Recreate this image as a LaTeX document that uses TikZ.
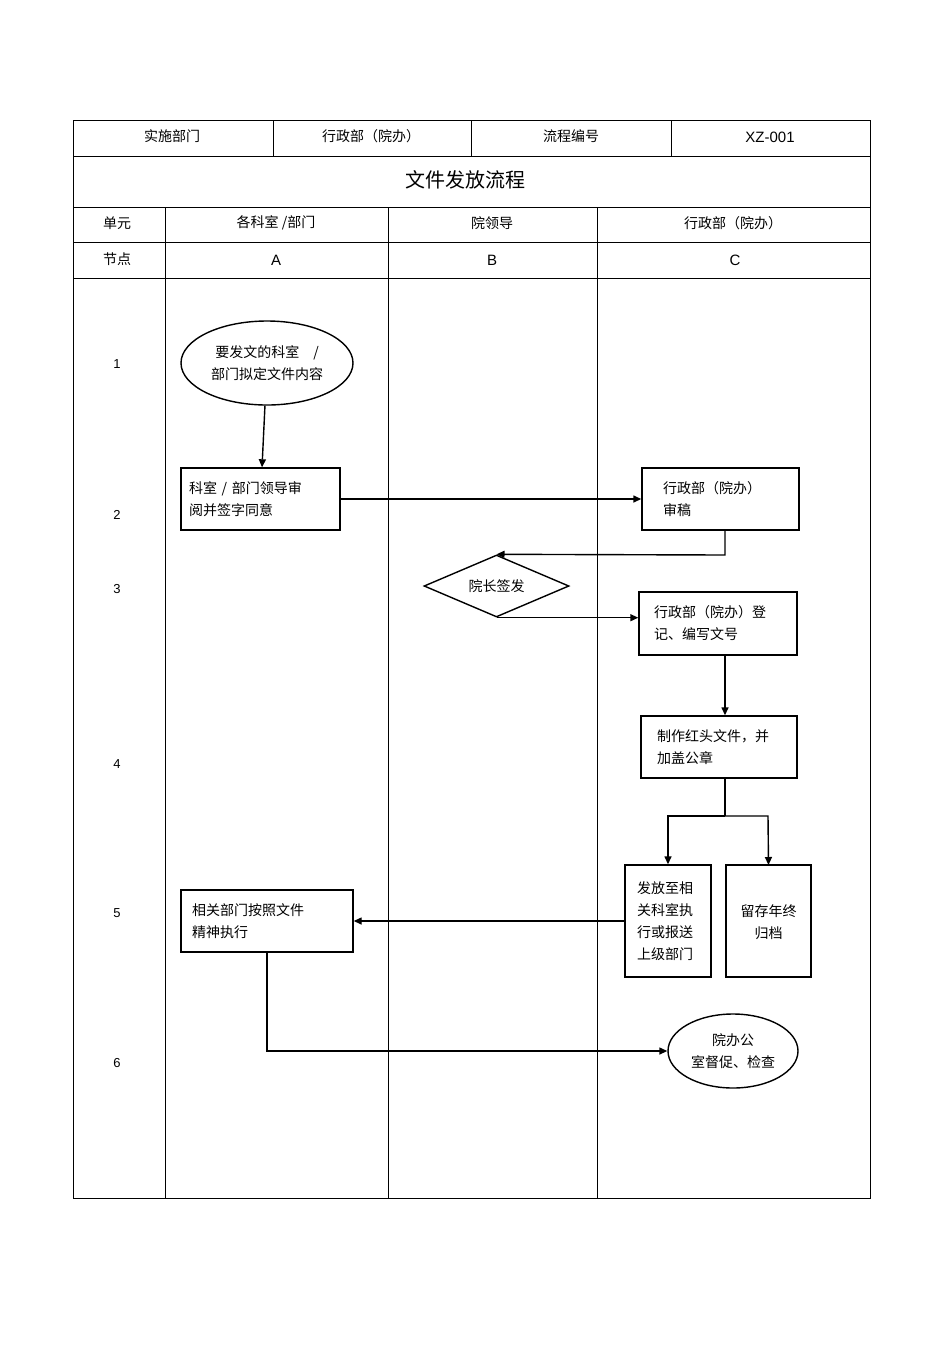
\documentclass[tikz,border=0pt]{standalone}
\usepackage{fontspec}
\setmainfont{Liberation Sans}
\newfontfamily\cjk{Noto Sans CJK SC}
\usetikzlibrary{shapes.geometric,arrows.meta}
\begin{document}
\begin{tikzpicture}[x=1pt,y=-1pt,
  every node/.style={font=\cjk\fontsize{14}{22}\selectfont,inner sep=0pt},
  box/.style={draw,line width=1.4pt,align=left},
  arr/.style={line width=1.4pt,-{Triangle[length=8pt,width=7pt]}},
  grid/.style={line width=0.7pt}]
\useasboundingbox (0,0) rectangle (950,1345);
% table
\draw[grid] (73,120) rectangle (870,1198);
\foreach \y in {156,207,242,278} \draw[grid] (73,\y) -- (870,\y);
\foreach \x in {273,471,671} \draw[grid] (\x,120) -- (\x,156);
\foreach \x in {165,388,597} \draw[grid] (\x,207) -- (\x,1198);
\node (h1) at (172,136) {实施部门};
\node (h2) at (371,136) {行政部（院办）};
\node (h3) at (571,136) {流程编号};
\node[font=\fontsize{15}{18}\selectfont] (h4) at (770,137) {XZ-001};
\node[font=\cjk\fontsize{20}{24}\selectfont] (title) at (465,180) {文件发放流程};
\node (u0) at (117,223) {单元};
\node (u1) at (276,223) {各科室 /部门};
\node (u2) at (492,223) {院领导};
\node (u3) at (733,223) {行政部（院办）};
\node (n0) at (117,259) {节点};
\node[font=\fontsize{15}{18}\selectfont] (nA) at (276,260) {A};
\node[font=\fontsize{15}{18}\selectfont] (nB) at (492,260) {B};
\node[font=\fontsize{15}{18}\selectfont] (nC) at (735,260) {C};
\foreach \t/\y in {1/364,2/515,3/589,4/764,5/913,6/1063}
  \node[font=\fontsize{13}{16}\selectfont] (r\t) at (117,\y) {\t};
% shapes
\node[draw,line width=1.4pt,ellipse,minimum width=172pt,minimum height=84pt,align=center] (e1) at (267,363) {要发文的科室\quad/\\部门拟定文件内容};
\node[box,minimum width=159pt,minimum height=62pt,text width=143pt] (a2) at (260.5,499) {科室 / 部门领导审\\阅并签字同意};
\node[box,minimum width=157pt,minimum height=62pt,text width=115pt] (c2) at (720.5,499) {行政部（院办）\\审稿};
\node[draw,line width=1.4pt,diamond,aspect=2.35,minimum width=145pt,minimum height=62pt] (d3) at (496.5,586) {院长签发};
\node[box,minimum width=158pt,minimum height=63pt,text width=128pt] (c3) at (718,623.5) {行政部（院办）登\\记、编写文号};
\node[box,minimum width=156pt,minimum height=62pt,text width=124pt] (c4) at (719,747) {制作红头文件，并\\加盖公章};
\node[box,minimum width=86pt,minimum height=112pt,text width=62pt] (c5a) at (668,921) {发放至相\\关科室执\\行或报送\\上级部门};
\node[box,minimum width=85pt,minimum height=112pt,text width=62pt,align=center,anchor=north] (c5b) at (768.5,865) {\rule{0pt}{12pt}留存年终\\归档};
\draw[line width=1.4pt] (726,865) rectangle (811,977);
\node[box,minimum width=172pt,minimum height=62pt,text width=150pt] (a5) at (267,921) {相关部门按照文件\\精神执行};
\node[draw,line width=1.4pt,ellipse,minimum width=130pt,minimum height=74pt,align=center] (e6) at (733,1051) {院办公\\室督促、检查};
% connectors
\coordinate (j1) at (725,555);
\coordinate (j2) at (725,816);
\coordinate (j3) at (668,816);
\coordinate (j4) at (768,816);
\coordinate (j5) at (267,1051);
\draw[arr] (e1) -- (a2);
\draw[arr] (a2) -- (c2);
\draw[arr] (c2.south -| j1) -- (j1) -- (d3.north);
\draw[arr] (d3.south) -- (d3.south -| c3.west);
\draw[arr] (c3.south -| j1) -- (c4.north -| j1);
\draw[line width=1.4pt] (c4.south -| j2) -- (j2);
\draw[arr] (j2) -- (j3) -- (c5a.north);
\draw[arr] (j2) -- (j4) -- (c5b.north);
\draw[arr] (c5a.west) -- (a5.east);
\draw[arr] (a5.south) -- (j5) -- (e6.west);
\end{tikzpicture}
\end{document}
